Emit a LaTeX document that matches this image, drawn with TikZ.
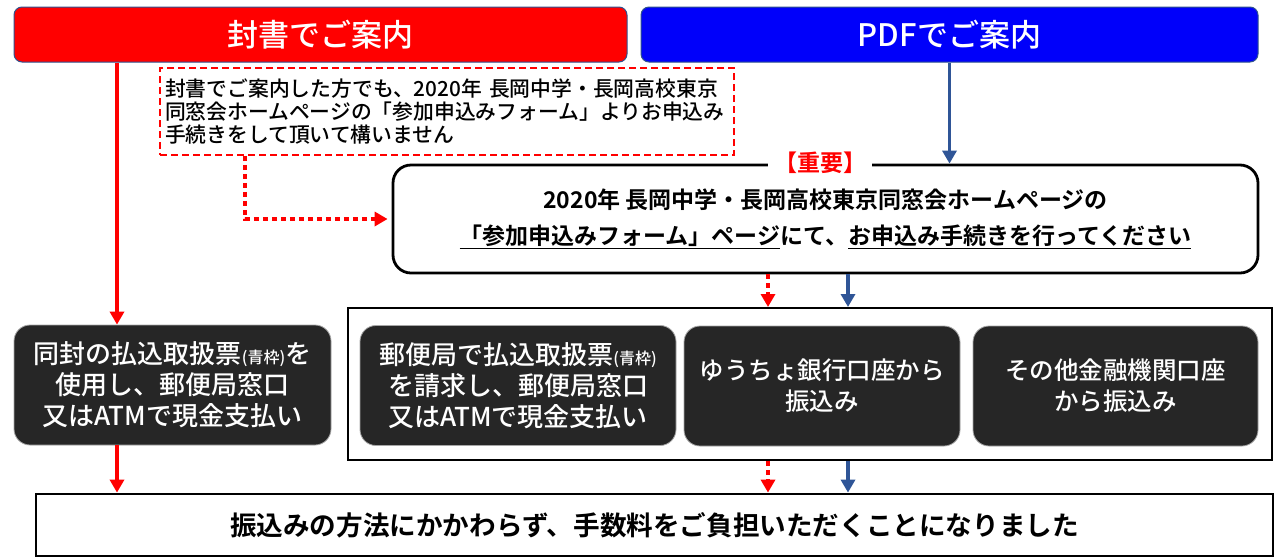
\documentclass[tikz,border=0pt]{standalone}
\usepackage{fontspec}
\setmainfont{Noto Sans CJK JP}[UprightFont={* Medium}, BoldFont={* Bold}]
\usetikzlibrary{arrows.meta}
\definecolor{hdrline}{RGB}{47,82,143}
\definecolor{arrblue}{RGB}{47,85,151}
\definecolor{darkbox}{RGB}{38,38,38}
\definecolor{pureblue}{RGB}{0,0,250}
\tikzset{
  hdr/.style={draw=hdrline, line width=1pt, rounded corners=8pt, text=white,
    font=\fontsize{31}{36}\selectfont, inner sep=0pt},
  dark/.style={draw=gray!70, line width=0.8pt, fill=darkbox, rounded corners=16pt,
    text=white, align=center, inner sep=0pt, minimum height=120pt,
    font=\fontsize{24.5}{31}\selectfont},
  darkb/.style={dark, font=\fontsize{26}{31}\selectfont},
  redarr/.style={draw=red, line width=3.5pt, -{Triangle[width=14pt,length=13pt]}},
  bluearr/.style={draw=arrblue, line width=3.5pt, -{Triangle[width=14pt,length=13pt]}},
  reddot/.style={draw=red, line width=4pt, dash pattern=on 5pt off 4pt,
    -{Triangle[width=14pt,length=13pt]}},
}
\newcommand{\smallp}[1]{{\fontsize{16}{16}\selectfont(#1)}}
\begin{document}
\begin{tikzpicture}[x=1pt,y=-1pt]
\useasboundingbox[fill=white] (0,0) rectangle (1274,558);
% headers
\node[hdr, fill=red, minimum width=613pt, minimum height=55pt] (red) at (320.5,34.5) {封書でご案内};
\node[hdr, fill=pureblue, minimum width=617pt, minimum height=55pt] (blue) at (949.5,34.5) {PDFでご案内};
% note
\node[draw=red, line width=1.8pt, dash pattern=on 7pt off 4pt, minimum width=574pt, minimum height=87pt,
  text width=564pt, inner xsep=5pt, inner ysep=8pt, align=left, font=\fontsize{20.8}{23}\selectfont] (note) at (447,111.5)
  {封書でご案内した方でも、2020年 長岡中学・長岡高校東京\\同窓会ホームページの「参加申込みフォーム」よりお申込み\\手続きをして頂いて構いません};
% important box
\node[draw=black, line width=2.8pt, rounded corners=18pt, minimum width=865pt, minimum height=108pt,
  align=center, inner sep=0pt, font=\bfseries\fontsize{23}{36}\selectfont] (imp) at (825.5,219)
  {2020年 長岡中学・長岡高校東京同窓会ホームページの\\\underline{「参加申込みフォーム」ページ}にて、\underline{お申込み手続きを行ってください}};
\node[fill=white, text=red, inner xsep=6pt, inner ysep=0pt, font=\bfseries\fontsize{23}{26}\selectfont] (jyu) at (820,163) {【重要】};
% group box
\node[draw=black, line width=2pt, minimum width=924pt, minimum height=152pt, inner sep=0pt] (grp) at (810,384) {};
% dark boxes
\node[darkb, minimum width=317pt] (d1) at (172.5,385) {同封の払込取扱票\smallp{青枠}を\\使用し、郵便局窓口\\又はATMで現金支払い};
\node[darkb, minimum width=316pt] (d2) at (518,385.5) {郵便局で払込取扱票\smallp{青枠}\\を請求し、郵便局窓口\\又はATMで現金支払い};
\node[dark, minimum width=276pt] (d3) at (822,386) {ゆうちょ銀行口座から\\振込み};
\node[dark, minimum width=285pt] (d4) at (1115.5,386) {その他金融機関口座\\から振込み};
% bottom
\node[draw=black, line width=2.8pt, minimum width=1237pt, minimum height=62pt, inner sep=0pt,
  font=\bfseries\fontsize{26.6}{30}\selectfont] (bot) at (654.5,525) {振込みの方法にかかわらず、手数料をご負担いただくことになりました};
% helper coordinates
\coordinate (xl) at (117,0);
\coordinate (xd) at (245,0);
\coordinate (xr) at (768,0);
\coordinate (xb) at (848,0);
% connectors
\draw[redarr] (red.south -| xl) -- (d1.north -| xl);
\draw[redarr] (d1.south -| xl) -- (bot.north -| xl);
\draw[bluearr] (blue.south) -- (imp.north -| blue.south);
\draw[reddot] (note.south -| xd) |- ([xshift=-4pt]imp.west);
\draw[reddot] (imp.south -| xr) -- (grp.north -| xr);
\draw[bluearr] (imp.south -| xb) -- (grp.north -| xb);
\draw[reddot] (grp.south -| xr) -- (bot.north -| xr);
\draw[bluearr] (grp.south -| xb) -- (bot.north -| xb);
\end{tikzpicture}
\end{document}
